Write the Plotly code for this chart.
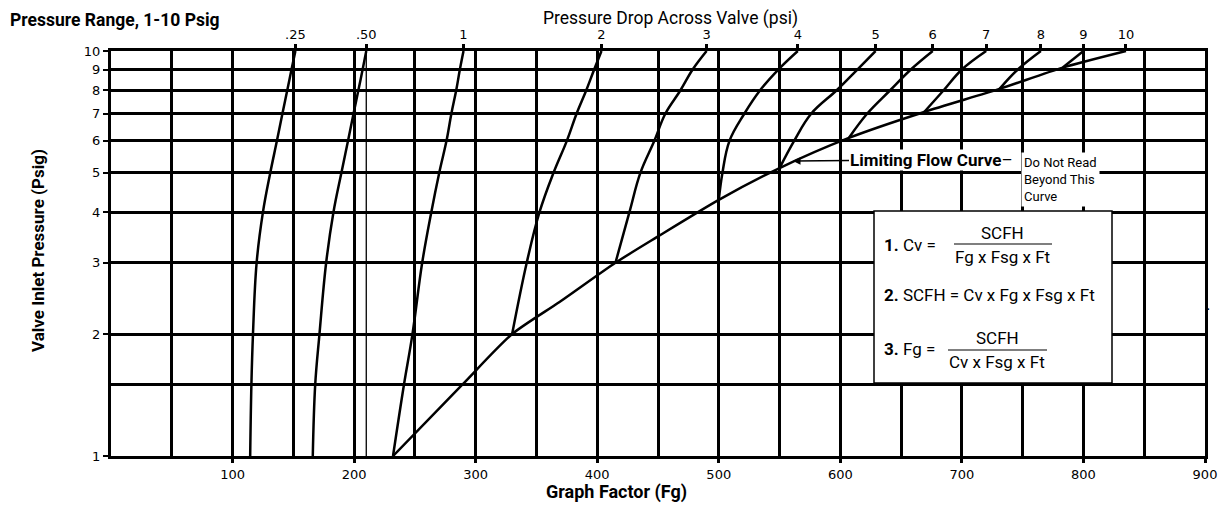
import plotly.graph_objects as go

# axis ticks
fg_ticks = [100, 200, 300, 400, 500, 600, 700, 800, 900]
psig_ticks = [1, 2, 3, 4, 5, 6, 7, 8, 9, 10]
psig_minor = [1.5]
thin_grid_fg = [210]

# limiting flow curve (Fg vs inlet psig)
limit_fg = [232, 289, 330, 369, 415, 449, 500, 550, 607, 669, 731, 783, 835]
limit_psig = [1, 1.5, 2, 2.4, 3, 3.47, 4.29, 5.14, 6.1, 7.07, 8.06, 9.1, 10]

# pressure drop curves
fg_025 = [114.5, 115.5, 116.8, 119.8, 125, 131, 136.5, 141, 145, 148.5, 151.7]
psig_025 = [1, 1.5, 2, 3, 4, 5, 6, 7, 8, 9, 10]
fg_050 = [166, 168, 171.5, 177, 183, 189.5, 195, 199.5, 203.5, 207, 210]
psig_050 = [1, 1.5, 2, 3, 4, 5, 6, 7, 8, 9, 10]
fg_1 = [232, 241, 248, 256, 263.5, 270, 276, 280, 284, 287, 290]
psig_1 = [1, 1.5, 2, 3, 4, 5, 6, 7, 8, 9, 10]
fg_2 = [330, 342, 352.5, 364, 375, 383, 391, 397.5, 403.5]
psig_2 = [2, 3, 4, 5, 6, 7, 8, 9, 10]
fg_3 = [415, 426.5, 435.5, 447, 456, 468.5, 478.5, 490]
psig_3 = [3, 4, 5, 6, 7, 8, 9, 10]
fg_4 = [500, 503, 508.8, 521, 534, 549, 565]
psig_4 = [4.29, 5, 6, 7, 8, 9, 10]
fg_5 = [550, 562, 576, 597, 614, 629]
psig_5 = [5.14, 6, 7, 8, 9, 10]
fg_6 = [607, 622, 641, 658, 676]
psig_6 = [6.1, 7, 8, 9, 10]
fg_7 = [669, 685, 700, 720]
psig_7 = [7.07, 8, 9, 10]
fg_8 = [731, 746, 765]
psig_8 = [8.06, 9, 10]
fg_9 = [783, 800]
psig_9 = [9.1, 10]

drop_labels = ['.25', '.50', '1', '2', '3', '4', '5', '6', '7', '8', '9', '10']

curves = [(fg_025, psig_025), (fg_050, psig_050), (fg_1, psig_1), (fg_2, psig_2),
          (fg_3, psig_3), (fg_4, psig_4), (fg_5, psig_5), (fg_6, psig_6),
          (fg_7, psig_7), (fg_8, psig_8), (fg_9, psig_9)]
drop_top_fg = [c[0][-1] for c in curves] + [limit_fg[-1]]

COND = "Roboto, Liberation Sans, sans-serif"
TICKF = "DejaVu Sans, Liberation Sans, sans-serif"

# page has an 8px body margin, so the figure is a bit smaller than the window
OFF = 8
W, H = 1229 - OFF, 508 - OFF
# plot area in page pixels, used to place the text blocks
L, R, T, B = 111, 1205, 51, 456


def px(x):
    return (x - L) / (R - L)


def py(y):
    return (B - y) / (B - T)


fig = go.Figure()

for fg, psig in curves:
    fig.add_trace(go.Scatter(x=fg, y=psig, mode='lines',
                             line=dict(color='black', width=2.5, shape='spline', smoothing=1.1),
                             hoverinfo='skip', showlegend=False))

fig.add_trace(go.Scatter(x=limit_fg, y=limit_psig, mode='lines',
                         line=dict(color='black', width=2.5, shape='spline', smoothing=0.7),
                         hoverinfo='skip', showlegend=False))

# invisible trace so the top axis gets drawn
fig.add_trace(go.Scatter(x=drop_top_fg, y=[10] * len(drop_top_fg), xaxis='x2', mode='markers',
                         marker=dict(opacity=0), hoverinfo='skip', showlegend=False))

for v in thin_grid_fg:
    fig.add_shape(type='line', x0=v, x1=v, y0=1, y1=10, xref='x', yref='y',
                  line=dict(color='black', width=1.3), layer='below')

fig.update_layout(
    width=W, height=H,
    margin=dict(l=L - OFF, r=1229 - R, t=T - OFF, b=508 - B),
    paper_bgcolor='white', plot_bgcolor='white',
    xaxis=dict(range=[0, 900], tickvals=fg_ticks, showgrid=True, gridcolor='black', gridwidth=3,
               minor=dict(dtick=50, tick0=0, showgrid=True, gridcolor='black', gridwidth=3, ticks=''),
               ticks='outside', ticklen=4, tickwidth=3, tickcolor='black',
               showline=True, linecolor='black', linewidth=3, mirror=True,
               zeroline=False, tickfont=dict(family=TICKF, size=13, color='black')),
    xaxis2=dict(range=[0, 900], overlaying='x', side='top', anchor='y',
                tickvals=drop_top_fg, ticktext=drop_labels, showgrid=False, zeroline=False,
                ticks='outside', ticklen=6, tickwidth=3, tickcolor='black', showline=False,
                tickfont=dict(family=TICKF, size=13, color='black')),
    yaxis=dict(type='log', range=[0, 1], tickvals=psig_ticks, ticktext=[str(v) for v in psig_ticks],
               showgrid=True, gridcolor='black', gridwidth=3,
               minor=dict(tickvals=psig_minor, showgrid=True, gridcolor='black', gridwidth=3, ticks=''),
               ticks='outside', ticklen=5, tickwidth=2, tickcolor='black',
               showline=True, linecolor='black', linewidth=3, mirror=True,
               tickfont=dict(family=TICKF, size=13, color='black')),
)

# titles
fig.add_annotation(text='<b>Pressure Range, 1-10 Psig</b>', xref='paper', yref='paper',
                   x=px(8), y=py(20), xanchor='left', yanchor='middle', showarrow=False,
                   font=dict(family=COND, size=17.5, color='black'))
fig.add_annotation(text='Pressure Drop Across Valve (psi)', xref='paper', yref='paper',
                   x=px(670), y=py(18), xanchor='center', yanchor='middle', showarrow=False,
                   font=dict(family=COND, size=17.5, color='black'))
fig.add_annotation(text='<b>Valve Inlet Pressure (Psig)</b>', xref='paper', yref='paper',
                   x=px(38), y=py(251), xanchor='center', yanchor='middle', showarrow=False,
                   textangle=-90, font=dict(family=COND, size=17, color='black'))
fig.add_annotation(text='<b>Graph Factor (Fg)</b>', xref='paper', yref='paper',
                   x=px(616), y=py(492), xanchor='center', yanchor='middle', showarrow=False,
                   font=dict(family=COND, size=18, color='black'))

# limiting flow curve callout
fig.add_annotation(text='<b>Limiting Flow Curve</b>–', xref='paper', yref='paper',
                   x=px(793), y=py(161), ax=138, ay=-1, showarrow=True,
                   arrowhead=2, arrowsize=1, arrowwidth=1.5, arrowcolor='black',
                   bgcolor='white', borderpad=0,
                   font=dict(family=COND, size=17, color='black'))
fig.add_annotation(text='Do Not Read<br>Beyond This<br>Curve', xref='paper', yref='paper',
                   x=px(1021), y=py(179), xanchor='left', yanchor='middle', align='left',
                   showarrow=False, bgcolor='white', borderpad=2,
                   font=dict(family=COND, size=13, color='black'))

# formula box
fig.add_shape(type='rect', xref='paper', yref='paper', x0=px(874), x1=px(1112),
              y0=py(383), y1=py(211), fillcolor='white', line=dict(color='black', width=1.5))
fig.add_shape(type='line', xref='paper', yref='paper', x0=px(954), x1=px(1052),
              y0=py(244), y1=py(244), line=dict(color='black', width=1.2))
fig.add_shape(type='line', xref='paper', yref='paper', x0=px(948), x1=px(1047),
              y0=py(350), y1=py(350), line=dict(color='black', width=1.2))

formula_text = [
    ('<b>1.</b> Cv =', 882, 245, 'left'),
    ('SCFH', 1002, 233, 'center'),
    ('Fg x Fsg x Ft', 1002, 257, 'center'),
    ('<b>2.</b> SCFH = Cv x Fg x Fsg x Ft', 882, 295, 'left'),
    ('<b>3.</b> Fg =', 882, 349, 'left'),
    ('SCFH', 997, 338, 'center'),
    ('Cv x Fsg x Ft', 997, 362, 'center'),
]
for txt, x, y, anchor in formula_text:
    fig.add_annotation(text=txt, xref='paper', yref='paper', x=px(x), y=py(y),
                       xanchor=anchor, yanchor='middle', showarrow=False,
                       font=dict(family=COND, size=17, color='black'))

fig.add_annotation(text='.', xref='paper', yref='paper', x=px(1212), y=py(304),
                   showarrow=False, font=dict(family=COND, size=17, color='black'))

fig.write_html("out.html")
